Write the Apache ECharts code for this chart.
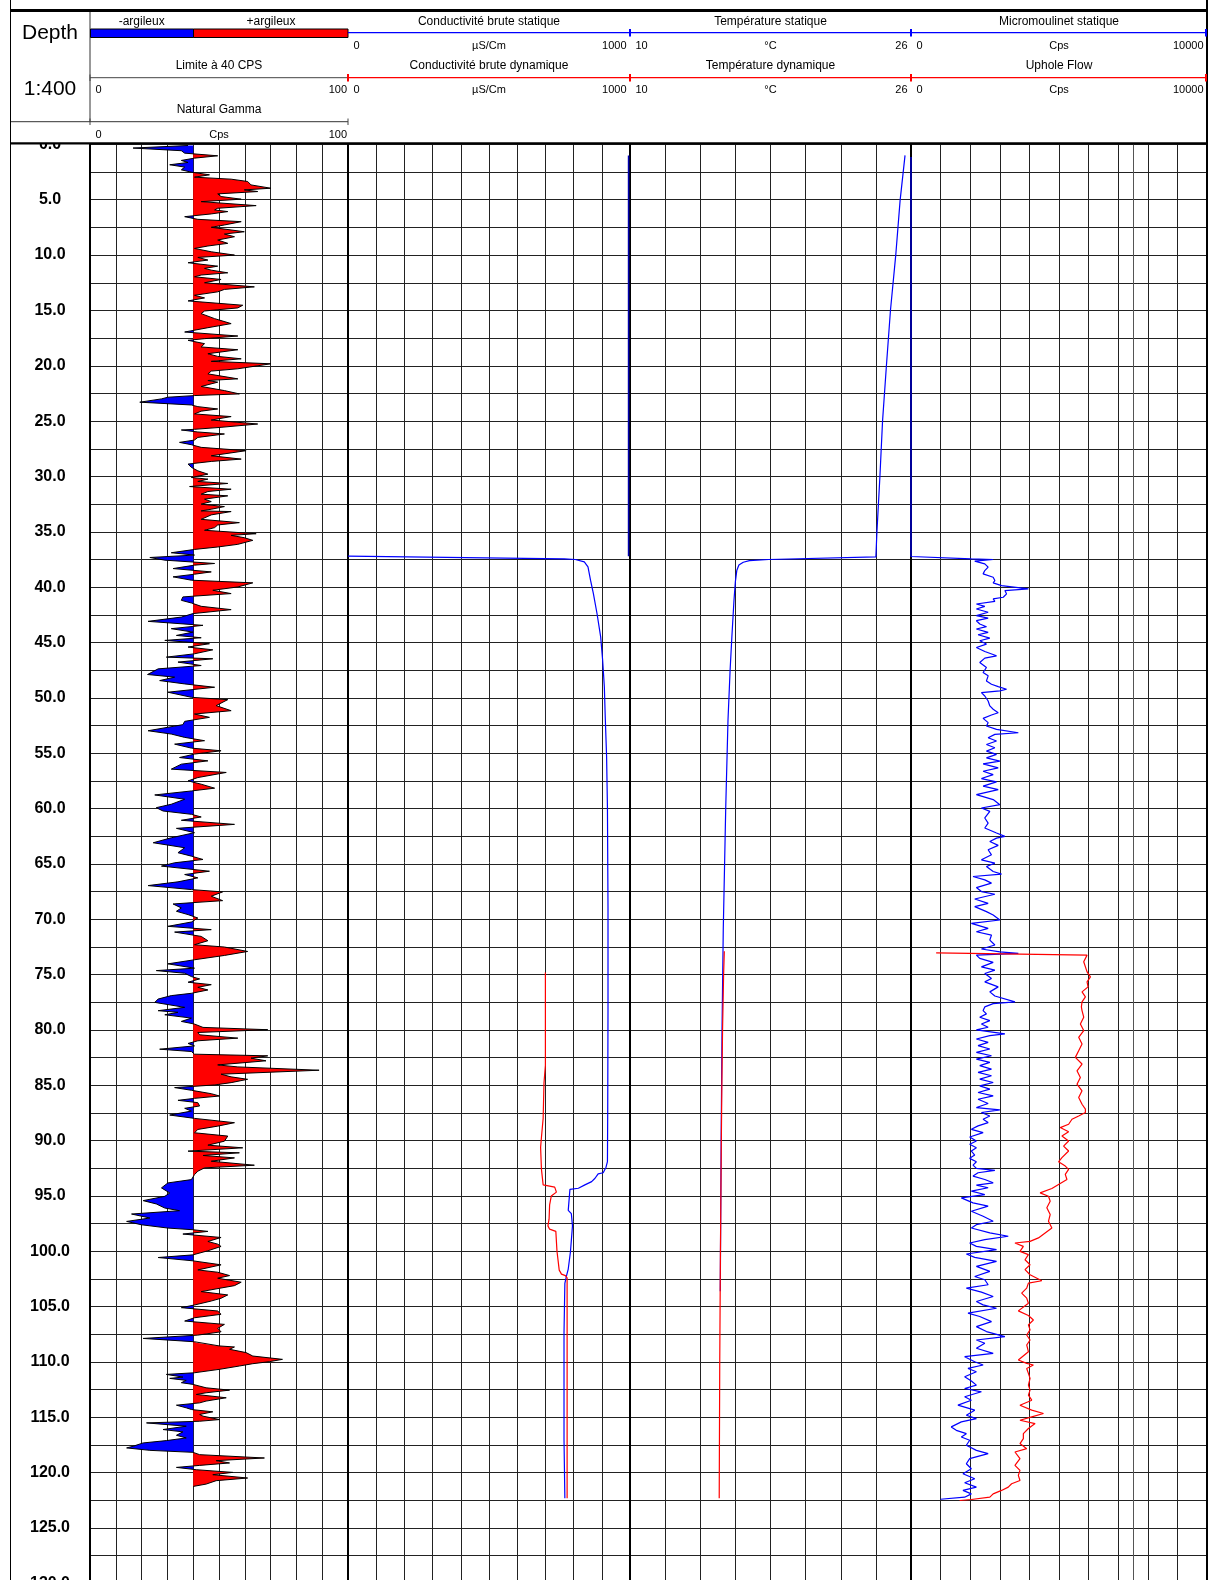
<!DOCTYPE html>
<html><head><meta charset="utf-8">
<script src="https://cdn.jsdelivr.net/npm/echarts@6/dist/echarts.min.js"></script>
<style>html,body{margin:0;padding:0;background:#fff}#c{width:1211px;height:1580px}</style>
</head><body><div id="c"></div>
<script>
// ---------------- DATA ----------------
const depthRange = [0, 130];           // metres
const depthStep = 2.5;                 // grid step (m)
const depthLabelStep = 5;              // label every 5 m
const gammaScale = [0, 100, 10];       // min, max, step (cps)
const gammaBase = 40;                  // "Limite à 40 CPS"
const condScale = [0, 1000, 100];      // µS/cm
const tempScale = [10, 26, 2];         // °C
const flowScale = [0, 10000, 1000];    // cps
const flowExtraGrid = [7500];

// Natural Gamma [depth, cps]
const gammaLog = [
[0.1,38],[0.33,16.7],[0.57,35.4],[0.79,36.7],[1.03,49.5],[1.24,40.5],[1.45,35.4],[1.63,38],[1.84,30.9],[2.05,36.7],[2.3,35.4],[2.51,39.3],[2.75,46.3],[2.96,40.5],[3.14,54.7],[3.35,61.1],[3.66,62.4],[3.96,70.1],[4.11,59.8],[4.26,65],[4.47,49.5],[4.71,50.8],[4.95,58.6],[5.17,43.1],[5.53,64.4],[5.77,49.5],[5.92,48.3],[6.07,53.4],[6.28,47],[6.53,36.7],[6.77,41.8],[6.98,58.6],[7.28,52.1],[7.49,47],[7.89,59.8],[8.1,52.1],[8.34,56],[8.64,49.5],[8.94,53.4],[9.18,45.7],[9.4,40.5],[9.7,47],[10.0,56],[10.21,41.8],[10.45,45.7],[10.69,38],[11.0,49.5],[11.2,44.4],[11.36,47],[11.6,53.4],[11.8,43.1],[11.96,40.5],[12.2,50.8],[12.5,44.4],[12.87,63.7],[13.1,52.1],[13.32,49.5],[13.63,40.5],[13.87,44.4],[14.14,38],[14.53,59.2],[14.77,57.3],[15.05,44.4],[15.29,43.1],[15.74,48.3],[16.19,54.7],[16.56,45.7],[16.95,36.7],[17.31,57.3],[17.55,44.4],[17.7,38],[18.0,44.4],[18.3,43.1],[18.55,57.3],[18.91,45.7],[19.15,49.5],[19.37,58.6],[19.6,47],[19.82,70.1],[20.27,57.3],[20.48,47],[20.73,45.7],[21.18,57.3],[21.33,45.7],[21.48,49.5],[21.87,43.1],[22.24,52.1],[22.54,57.9],[22.69,40.5],[22.84,30.2],[22.99,27.7],[23.29,19.3],[23.54,39.3],[23.69,41.8],[23.9,49.5],[24.1,43.1],[24.35,40.5],[24.59,54.7],[24.9,47],[25.26,65],[25.56,50.8],[25.74,40.5],[25.8,35.4],[25.98,41.8],[26.16,52.1],[26.47,41.8],[26.71,40.5],[26.92,34.7],[27.13,39.3],[27.37,43.1],[27.67,60.5],[28.13,47],[28.43,58.6],[28.64,47],[28.88,38],[29.18,39.3],[29.49,41.8],[29.79,45.7],[30.09,39.3],[30.24,45.7],[30.45,41.8],[30.63,53.4],[30.91,38.6],[31.15,54.7],[31.36,45.7],[31.6,43.1],[31.75,53.4],[32.05,44.4],[32.27,47],[32.5,43.1],[32.72,52.1],[32.96,47],[33.11,43.1],[33.17,54.7],[33.47,47],[33.87,43.1],[34.17,57.9],[34.38,49.5],[34.62,48.3],[34.86,44.4],[35.17,64.4],[35.32,54.7],[35.53,59.8],[35.77,63.1],[36.13,57.3],[36.37,49.5],[36.59,40.5],[36.89,31.5],[37.1,40.5],
[37.32,23.2],[37.56,29],[37.86,48.3],[38.01,40.5],[38.32,32.2],[38.62,47],[38.83,40.5],[39.07,32.2],[39.37,39.3],[39.61,63.1],[39.98,57.3],[40.28,47.6],[40.58,54.7],[40.88,36],[41.19,35.4],[41.43,39.3],[41.73,43.1],[42.03,54.7],[42.39,39.9],[42.7,35.4],[43.09,22.5],[43.45,43.8],[43.75,31.5],[44.06,39.9],[44.36,33.5],[44.57,43.1],[44.81,29],[45.11,46.3],[45.41,38],[45.66,47.6],[46.02,40.5],[46.32,29.6],[46.47,47.6],[46.77,34.1],[47.08,43.1],[47.38,26.4],[47.89,22.3],[48.13,32.8],[48.44,27],[48.74,36.7],[49.04,48.3],[49.49,30.2],[49.95,39.3],[50.16,53.4],[50.7,48.9],[51.16,54.7],[51.46,40.5],[51.76,46.3],[52.12,36.7],[52.42,36],[52.97,22.5],[53.27,31.5],[53.57,36.7],[53.87,44.4],[54.18,32.8],[54.54,39.3],[54.78,50.8],[55.08,40.5],[55.39,34.7],[55.69,45.7],[55.99,35.4],[56.44,31.5],[56.74,52.8],[57.2,41.8],[57.5,38],[57.8,43.1],[58.16,48.3],[58.41,39.3],[58.77,25.1],[59.16,36.7],[59.61,31.5],[59.92,25.7],[60.22,28.3],[60.52,39.3],[60.76,43.1],[61.06,35.4],[61.43,56],[61.79,33.5],[62.18,40.5],[62.64,31.5],[63.09,24.5],[63.54,36.7],[63.99,34.1],[64.3,39.3],[64.6,43.8],[64.9,32.8],[65.2,27.7],[65.66,46.3],[65.96,36.7],[66.26,41.8],[66.62,34.1],[66.96,22.5],[67.32,39.3],[67.53,51.4],[67.92,47],[68.32,51.4],[68.62,32.2],[68.98,35.4],[69.28,33.5],[69.58,38],[69.89,41.8],[70.25,39.3],[70.64,30.2],[70.94,47],[71.16,32.8],[71.55,43.1],[71.94,45.7],[72.3,40.5],[72.51,52.1],[72.91,61.1],[73.27,52.1],[73.66,40.5],[74.03,30.2],[74.42,40.5],
[74.64,25.7],[74.88,36.7],[75.18,39.3],[75.39,42.5],[75.69,38],[75.91,47],[76.15,41.8],[76.39,45.7],[76.69,39.3],[76.9,31.5],[77.21,26.4],[77.51,25.1],[77.96,36.7],[78.26,26.4],[78.41,34.1],[78.63,29],[78.93,39.3],[79.23,35.4],[79.47,40.5],[79.77,43.8],[79.98,68.9],[80.23,41.8],[80.44,42.5],[80.74,57.3],[80.98,41.8],[81.22,38],[81.44,40.5],[81.74,27],[81.95,39.3],[82.19,40.5],[82.34,68.9],[82.55,62.4],[82.79,68.2],[83.16,49.5],[83.34,57.3],[83.64,88.8],[84.0,50.8],[84.24,54.7],[84.46,61.1],[84.76,54.7],[84.97,48.3],[85.21,32.8],[85.45,39.3],[85.76,47],[85.97,50.2],[86.18,40.5],[86.36,34.1],[86.57,41.8],[86.87,42.5],[87.08,36.7],[87.33,39.3],[87.69,30.9],[87.99,40.5],[88.38,56],[88.69,49.5],[88.99,41.8],[89.29,40.5],[89.59,53.4],[90.05,52.1],[90.41,45.7],[90.65,59.2],[90.95,38],[91.1,57.9],[91.34,43.8],[91.56,56],[91.86,47],[92.22,63.7],[92.46,44.4],[92.76,41.8],[93.07,40.5],[93.52,39.3],[93.82,30.2],[94.27,27.7],[94.73,30.9],[95.03,29],[95.42,20.6],[95.72,25.7],[96.09,29],[96.33,34.7],[96.63,16.1],[96.99,23.2],[97.3,14.2],[97.6,19.9],[97.9,30.2],[98.05,39.9],[98.2,45.7],[98.44,36],[98.75,50.8],[99.11,45.7],[99.35,49.5],[99.56,50.8],[99.95,45.7],[100.32,39.9],[100.56,26.4],[100.86,39.9],[101.22,50.8],[101.68,41.8],[101.89,49.5],[102.19,54.1],[102.43,49.5],[102.79,58.6],[103.1,56],[103.34,50.2],[103.64,43.1],[103.94,53.4],[104.24,50.8],[104.49,47],[104.85,40.5],[105.09,35.4],[105.39,49.5],[105.69,50.8],[106.0,40.5],[106.3,36.7],[106.6,52.1],[106.96,49.5],[107.27,50.8],[107.57,41.8],[107.87,20.6],[108.17,40.5],
[108.25,41.2],[108.55,50.2],[108.64,56],[108.85,54.1],[109.15,60.5],[109.46,63.1],[109.76,74.6],[109.97,69.5],[110.15,63.1],[110.36,57.9],[110.66,50.2],[110.97,40.5],[111.12,29.6],[111.36,36],[111.48,30.9],[111.66,37.3],[111.87,35.4],[112.02,39.9],[112.33,45],[112.54,54.1],[112.78,45],[112.93,41.2],[113.23,52.8],[113.53,45],[113.69,42.5],[113.9,33.5],[114.14,37.3],[114.29,39.3],[114.5,47.6],[114.74,42.5],[114.89,43.8],[115.2,50.2],[115.35,42.5],[115.5,21.9],[115.8,37.3],[116.1,28.3],[116.31,36],[116.62,33.5],[116.86,37.3],[117.1,29.6],[117.31,20.6],[117.61,16.7],[117.76,14.2],[117.98,23.2],[118.16,39.9],[118.37,42.5],[118.67,67.6],[118.91,48.9],[119.12,54.1],[119.34,42.5],[119.52,33.5],[119.73,41.2],[119.97,55.3],[120.18,47.6],[120.48,61.1],[120.72,48.9],[121.03,45],[121.24,40]
];

// Conductivité brute statique [depth, µS/cm]
const condStaticCased = [[1.0,995],[37.2,995]];
const condStatic = [[37.2,0],[37.44,767],[37.5,806],[37.71,838],[38.16,851],[39.37,860],[40.57,870],[42.38,883],[44.49,896],[46.6,903],[49.0,909],[51.57,912],[55.3,917],[59.9,920],[69.0,922],[78.1,922],[87.2,921],[91.9,920],[92.4,915],[92.9,905],[93.0,887],[93.4,876],[93.7,864],[94.0,840],[94.3,817],[94.4,787],[94.5,781],[96.3,781],[96.6,792],[97.7,796],[100.0,789],[101.6,781],[102.2,775],[102.9,769],[107.4,766],[117.0,766],[122.3,769]];
// Conductivité brute dynamique
const condDynamic = [[74.8,700],[83.2,700],[84.8,695],[88.0,692],[89.7,686],[90.6,683],[92.6,686],[94.0,692],[94.2,733],[94.65,739],[95.0,721],[95.8,715],[97.1,713],[97.7,709],[98.0,715],[98.2,737],[99.97,741],[101.7,749],[102.06,757],[102.2,771],[102.4,777],[122.3,777]];

// Température statique / dynamique [depth, °C]
const tempStatic = [[0.99,25.66],[5.06,25.38],[10.03,25.13],[15.0,24.83],[20.0,24.6],[25.0,24.38],[30.0,24.23],[35.0,24.06],[37.27,24.0],[37.5,17.9],[37.6,16.8],[37.75,16.45],[38.0,16.2],[38.5,16.08],[39.5,16.0],[41.2,15.92],[44.5,15.8],[47.5,15.7],[52.0,15.58],[60.0,15.45],[71.0,15.31],[80.0,15.24],[90.0,15.19],[103.6,15.14]];
const tempDynamic = [[72.9,15.37],[75,15.33],[80,15.27],[85,15.23],[90,15.2],[100,15.15],[110,15.11],[122.3,15.08]];

// Micromoulinet statique [depth, cps]
const flowStatic = [[1.14,0],[37.23,0],[37.44,2040],[37.5,2776],[37.65,2153],[37.89,2493],[38.19,2606],[38.5,2493],[38.8,2436],[39.1,2776],[39.4,2833],[39.61,2776],[39.86,3059],[40.01,3002],[40.16,3966],[40.31,3172],[40.61,3229],[40.91,3116],[41.06,2776],[41.28,2833],[41.52,2209],[41.73,2493],[41.97,2209],[42.27,2606],[42.57,2209],[42.79,2606],[43.03,2209],[43.33,2323],[43.57,2549],[43.78,2209],[44.09,2606],[44.3,2266],[44.6,2663],[44.84,2323],[45.14,2549],[45.45,2209],[45.81,2493],[46.2,2889],[46.41,2493],[46.81,2323],[47.26,2549],[47.71,2436],[48.01,2606],[48.47,2549],[48.77,2719],[48.98,2946],[49.22,3229],[49.37,3002],[49.52,2379],[49.83,2493],[50.28,2606],[50.73,2663],[51.03,2776],[51.34,2946],[51.55,2719],[51.85,2436],[52.24,2606],[52.54,2549],[52.85,2889],[53.15,3626],[53.3,2833],[53.6,2606],[53.9,2889],[54.21,2549],[54.51,2833],[54.81,2549],[55.11,2889],[55.42,2549],[55.72,3002],[55.96,2436],[56.32,2946],[56.63,2436],[56.93,2776],[57.29,2379],[57.59,2889],[57.98,2436],[58.29,2946],[58.74,2209],[59.19,2776],[59.65,3002],[59.95,2379],[60.25,2663],[60.85,2493],[61.31,2606],[61.76,2493],[62.21,2889],[62.51,3172],[62.67,2889],[62.97,2663],[63.33,2946],[63.72,2606],[64.18,2719],[64.63,2379],[64.93,2833],[65.23,2549],[65.69,2776],[65.93,3059],[66.14,2096],[66.44,2493],[66.74,2719],[67.14,2209],[67.5,2379],[67.74,2833],[68.17,2153],[68.56,2606],[68.86,2153],[69.31,2549],[69.62,2776],[70.07,3002],[70.37,2039],[70.52,1983],[70.82,2606],[71.13,2209],[71.43,2719],[71.88,2663],[72.33,2833],[72.69,2379],[72.94,3002],[73.09,3626],[73.24,2209],[73.54,2323],[73.9,2776],[74.3,2379],[74.6,2833],[74.9,2493],[75.35,2719],[75.66,2493],[76.11,2946],[76.56,2663],[76.93,2833],[77.47,3512],[77.62,2776],[77.92,2493],
[78.25,2436],[78.55,2549],[78.85,2323],[79.16,2663],[79.46,2379],[79.76,2606],[80.0,2209],[80.36,3172],[80.52,2663],[80.82,2209],[81.12,2606],[81.42,2266],[81.72,2663],[82.03,2209],[82.33,2719],[82.63,2209],[82.93,2663],[83.23,2323],[83.54,2719],[83.84,2266],[84.14,2719],[84.44,2323],[84.75,2776],[85.05,2323],[85.35,2663],[85.65,2266],[85.95,2776],[86.26,2266],[86.65,2606],[87.01,2209],[87.22,3002],[87.46,2379],[87.77,2663],[88.07,2436],[88.37,2606],[88.67,2266],[88.98,2039],[89.28,2436],[89.67,1983],[90.03,2209],[90.33,1983],[90.64,2209],[90.94,2039],[91.3,2153],[91.6,1983],[91.91,2209],[92.21,2096],[92.51,2209],[92.69,2833],[92.9,2266],[93.2,2096],[93.51,2493],[93.81,2776],[94.02,2209],[94.26,2606],[94.56,2039],[94.87,2493],[95.17,1700],[95.62,2096],[95.92,2606],[96.38,2039],[96.83,2436],[97.28,2776],[97.59,2209],[97.89,2039],[98.34,2663],[98.64,3286],[98.95,2493],[99.25,1983],[99.55,2209],[99.85,2889],[100.24,1870],[100.55,2153],[100.91,2889],[101.36,2209],[101.81,2663],[102.27,2153],[102.57,2493],[103.02,2606],[103.33,1870],[103.69,2379],[104.08,2776],[104.53,2209],[104.84,2436],[105.14,2889],[105.59,1926],[105.89,2323],[106.35,2719],[106.8,2209],[107.25,2549],[107.71,3172],[108.01,2209],[108.31,2493],[108.76,2209],[109.22,2776],[109.52,1813],[109.97,2153],[110.27,2436],[110.58,1926],[110.88,2209],[111.33,1813],[111.72,2039],[112.09,2209],[112.39,1813],[112.69,2379],[113.14,1813],[113.45,2039],[113.9,1586],[114.35,2153],[114.81,1870],[115.11,2209],[115.41,1700],[115.86,1360],[116.17,1530],[116.47,1870],[116.77,1700],[117.07,1983],[117.52,1870],[117.98,2209],[118.28,2606],[118.73,1983],[119.19,1870],[119.64,2039],[120.09,1756],[120.55,2153],[120.91,1813],[121.3,2209],[121.6,1756],[121.91,2039],[122.21,1813],[122.4,1000]];
// Uphole Flow [depth, cps]
const flowDynamic = [[73.03,850],[73.24,5948],[73.39,5948],[73.84,5835],[74.3,5892],[74.75,5948],[75.2,6062],[75.66,5948],[76.11,5982],[76.56,5778],[77.01,5892],[77.47,5778],[77.92,5756],[78.25,5778],[78.85,5835],[79.46,5722],[80.06,5835],[80.67,5665],[81.27,5778],[81.88,5665],[82.48,5552],[83.08,5778],[83.69,5608],[84.29,5722],[84.9,5608],[85.5,5778],[86.1,5665],[86.71,5778],[87.16,5892],[87.46,5892],[87.77,5665],[88.07,5438],[88.52,5325],[88.82,5042],[89.19,5325],[89.58,5099],[90.03,5325],[90.49,5155],[90.94,5325],[91.54,5099],[91.91,4985],[92.3,5212],[92.6,5325],[93.05,5212],[93.51,5268],[93.96,4985],[94.32,4759],[94.72,4362],[95.02,4645],[95.47,4702],[96.07,4589],[96.68,4702],[97.28,4645],[97.89,4759],[98.34,4532],[98.79,4305],[99.1,4022],[99.25,3512],[99.55,3796],[100.0,3682],[100.3,3966],[100.76,3852],[101.21,4022],[101.66,3852],[102.12,4022],[102.66,4419],[102.87,3966],[103.33,3909],[103.78,3739],[104.23,3909],[104.69,3966],[105.38,3626],[105.8,3966],[106.2,4135],[106.65,3966],[107.1,4022],[107.56,3909],[108.01,4022],[108.46,3909],[109.07,3966],[109.82,3626],[110.12,3909],[110.27,4135],[110.58,3909],[111.03,3966],[111.48,4022],[112.09,3966],[112.54,4022],[112.99,3966],[113.45,4079],[113.9,3682],[114.35,4079],[114.65,4475],[114.95,4079],[115.26,3682],[115.56,4192],[116.01,3966],[116.47,3796],[116.92,3796],[117.37,3682],[117.83,3909],[118.13,3512],[118.73,3682],[119.34,3512],[119.79,3682],[120.24,3626],[120.7,3682],[121.0,3399],[121.3,3286],[121.6,3059],[121.91,2776],[122.21,2663],[122.42,2039],[122.51,1643]];

// ---------------- LAYOUT / STYLE ----------------
const FONT = '"Liberation Sans", Arial, Helvetica, sans-serif';
const TOP = 144.4, H = 1439;
const tracks = [
  {left: 90,  width: 258, scale: gammaScale},
  {left: 348, width: 282, scale: condScale},
  {left: 630, width: 281, scale: tempScale},
  {left: 911, width: 296, scale: flowScale}
];
const GRIDC = '#222';
const BLUE = '#0000ff', RED = '#ff0000';

const xy = arr => arr.map(p => [p[1], p[0]]);

function fillPolygon(api, sign) {
  const pts = [];
  const b = gammaBase;
  for (let i = 0; i < gammaLog.length; i++) {
    const d = gammaLog[i][0], v = gammaLog[i][1];
    if (i > 0) {
      const pd = gammaLog[i-1][0], pv = gammaLog[i-1][1];
      if ((pv - b) * (v - b) < 0) {
        const t = (b - pv) / (v - pv);
        pts.push(api.coord([b, pd + t * (d - pd)]));
      }
    }
    pts.push(api.coord([sign > 0 ? Math.max(v, b) : Math.min(v, b), d]));
  }
  pts.push(api.coord([b, gammaLog[gammaLog.length-1][0]]));
  pts.push(api.coord([b, gammaLog[0][0]]));
  return pts;
}

const grids = tracks.map(t => ({left: t.left, top: TOP, width: t.width, height: H,
  containLabel: false, outerBoundsMode: 'none'}));
const xAxes = tracks.map((t, i) => ({
  type: 'value', gridIndex: i, min: t.scale[0], max: t.scale[1], interval: t.scale[2],
  axisLine: {show: false}, axisTick: {show: false}, axisLabel: {show: false},
  splitLine: {show: true, lineStyle: {color: GRIDC, width: 1}}
}));
const yAxes = tracks.map((t, i) => ({
  type: 'value', gridIndex: i, inverse: true, min: depthRange[0], max: depthRange[1], interval: depthStep,
  axisLine: {show: false}, axisTick: {show: false},
  axisLabel: i === 0 ? {
    show: true, showMinLabel: true, showMaxLabel: true, margin: 40, align: 'center', verticalAlign: 'middle',
    color: '#000', fontSize: 16, fontWeight: 'bold', fontFamily: FONT,
    formatter: v => (Math.abs(v / depthLabelStep - Math.round(v / depthLabelStep)) < 1e-6) ? v.toFixed(1) : ''
  } : {show: false},
  splitLine: {show: true, lineStyle: {color: GRIDC, width: 1}}
}));

function lineSeries(grid, data, color, width, extra) {
  return Object.assign({
    type: 'line', xAxisIndex: grid, yAxisIndex: grid, data: xy(data),
    showSymbol: false, symbol: 'none', silent: true, clip: false,
    lineStyle: {color, width}, z: 10
  }, extra || {});
}

const series = [
  {
    type: 'custom', xAxisIndex: 0, yAxisIndex: 0, data: [[gammaBase, 0]], silent: true, z: 3,
    renderItem: (params, api) => ({
      type: 'group', children: [
        {type: 'polygon', shape: {points: fillPolygon(api, 1)}, style: {fill: RED}},
        {type: 'polygon', shape: {points: fillPolygon(api, -1)}, style: {fill: BLUE}}
      ]
    })
  },
  lineSeries(0, gammaLog, '#000', 1, {z: 4}),
  {
    type: 'line', xAxisIndex: 3, yAxisIndex: 3, data: [], silent: true, z: 1,
    markLine: {silent: true, symbol: ['none', 'none'], label: {show: false}, animation: false,
      lineStyle: {color: '#555', width: 1, type: 'solid'}, data: flowExtraGrid.map(v => ({xAxis: v}))}
  },
  lineSeries(1, condStaticCased, '#0000b0', 1.6),
  lineSeries(1, condStatic, BLUE, 1.2),
  lineSeries(1, condDynamic, RED, 1.2),
  lineSeries(2, tempStatic, BLUE, 1.2),
  lineSeries(2, tempDynamic, RED, 1.2),
  lineSeries(3, flowStatic, BLUE, 1.2),
  lineSeries(3, flowDynamic, RED, 1.2)
];

// ---------------- HEADER GRAPHICS ----------------
const G = [];
function txt(x, y, text, align, size, z) {
  G.push({type: 'text', x: x, y: y, z: z || 102, silent: true,
    style: {text: text, fill: '#000', font: (size || 12) + 'px ' + FONT,
      textAlign: align || 'center', align: align || 'center', textVerticalAlign: 'middle', verticalAlign: 'middle'}});
}
function ln(x1, y1, x2, y2, color, w, z) {
  G.push({type: 'line', silent: true, z: z || 101, shape: {x1, y1, x2, y2}, style: {stroke: color, lineWidth: w}});
}
// white header background (covers upper half of the "0.0" label)
G.push({type: 'rect', silent: true, z: 100, shape: {x: 0, y: 0, width: 1211, height: 143.5}, style: {fill: '#fff'}});
// frame
ln(10.5, 0, 10.5, 1580, '#000', 1, 103);
ln(1207, 0, 1207, 1580, '#000', 2, 103);
ln(10, 10.5, 1208, 10.5, '#000', 3, 103);
ln(10, 143.4, 1208, 143.4, '#000', 2.4, 103);
// track borders
[90, 348, 630, 911].forEach(x => ln(x, 142.5, x, 1580, '#000', 2, 6));
// depth column header
ln(90, 11, 90, 122, '#333', 1);
ln(10, 121.7, 348, 121.7, '#333', 1);
txt(50, 33.3, 'Depth', 'center', 21);
txt(50, 89.3, '1:400', 'center', 21);
// gamma header
G.push({type: 'rect', silent: true, z: 101, shape: {x: 90.5, y: 29, width: 103, height: 8.5}, style: {fill: BLUE, stroke: '#000', lineWidth: 1}});
G.push({type: 'rect', silent: true, z: 101, shape: {x: 193.5, y: 29, width: 154.5, height: 8.5}, style: {fill: RED, stroke: '#000', lineWidth: 1}});
txt(141.7, 21.7, '-argileux');
txt(271, 21.7, '+argileux');
txt(219, 65.7, 'Limite à 40 CPS');
ln(90, 77.7, 348, 77.7, '#444', 1);
[90, 348].forEach(x => { ln(x, 74.5, x, 81, '#444', 1, 104); ln(x, 118.5, x, 125, '#444', 1, 104); });
txt(95.5, 90, '0', 'left', 11);
txt(347, 90, '100', 'right', 11);
txt(219, 110, 'Natural Gamma');
txt(95.5, 135, '0', 'left', 11);
txt(219, 135, 'Cps', 'center', 11);
txt(347, 135, '100', 'right', 11);
// curve header lines
ln(348, 32.7, 1207, 32.7, BLUE, 1.3);
ln(348, 77.7, 1207, 77.7, RED, 1.3);
[630, 911, 1206].forEach(x => ln(x, 29, x, 36.5, BLUE, 2, 104));
[348, 630, 911, 1206].forEach(x => ln(x, 74, x, 81.5, RED, 2, 104));
const hdr = [
  {l: 348, r: 630, t1: 'Conductivité brute statique', t2: 'Conductivité brute dynamique', u: 'µS/Cm', a: '0', b: '1000'},
  {l: 630, r: 911, t1: 'Température statique', t2: 'Température dynamique', u: '°C', a: '10', b: '26'},
  {l: 911, r: 1207, t1: 'Micromoulinet statique', t2: 'Uphole Flow', u: 'Cps', a: '0', b: '10000'}
];
hdr.forEach(h => {
  const c = (h.l + h.r) / 2;
  txt(c, 21.7, h.t1);
  txt(c, 65.7, h.t2);
  [46, 90].forEach(y => {
    txt(h.l + 5.5, y, h.a, 'left', 11);
    txt(c, y, h.u, 'center', 11);
    txt(h.r - 3.5, y, h.b, 'right', 11);
  });
});

const chart = echarts.init(document.getElementById('c'), null, {renderer: 'canvas', width: 1211, height: 1580});
chart.setOption({
  animation: false,
  backgroundColor: '#fff',
  grid: grids,
  xAxis: xAxes,
  yAxis: yAxes,
  series: series,
  graphic: {elements: G}
});
</script>
</body></html>
